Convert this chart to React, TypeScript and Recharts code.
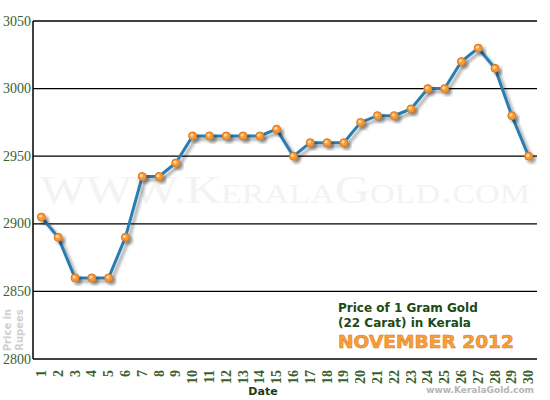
import { LineChart, Line, XAxis, YAxis, CartesianGrid } from "recharts";

const days = [
  1, 2, 3, 4, 5, 6, 7, 8, 9, 10, 11, 12, 13, 14, 15, 16, 17, 18, 19, 20, 21,
  22, 23, 24, 25, 26, 27, 28, 29, 30,
];
const prices = [
  2905, 2890, 2860, 2860, 2860, 2890, 2935, 2935, 2945, 2965, 2965, 2965, 2965,
  2965, 2970, 2950, 2960, 2960, 2960, 2975, 2980, 2980, 2985, 3000, 3000, 3020,
  3030, 3015, 2980, 2950,
];
const yTicks = [2800, 2850, 2900, 2950, 3000, 3050];
// tick marks sit between the days
const dayBoundaries = days.slice(1).map((d) => d - 0.5);

const data = days.map((day, i) => ({ day, price: prices[i] }));

const green = "#3a5f2d";

const DayTick = ({ x, y, payload }: any) => (
  <text
    x={x}
    y={y + 3}
    transform={`rotate(-90, ${x}, ${y + 3})`}
    textAnchor="end"
    dominantBaseline="central"
    fill={green}
    fontSize={14}
    fontWeight="bold"
    fontFamily="Liberation Serif, serif"
  >
    {payload.value}
  </text>
);

const PriceTick = ({ x, y, payload }: any) => (
  <text
    x={x}
    y={y}
    textAnchor="end"
    dominantBaseline="central"
    fill={green}
    fontSize={14}
    fontFamily="Liberation Serif, serif"
  >
    {payload.value}
  </text>
);

const Dot = ({ cx, cy, index }: any) => (
  <g key={index} filter="url(#dropShadow)">
    <circle cx={cx} cy={cy} r={4} fill="#f59a38" stroke="#d9781e" strokeWidth={1} />
    <circle cx={cx - 0.8} cy={cy - 0.8} r={1.6} fill="#ffd49a" />
  </g>
);

export default function App() {
  return (
    <div style={{ position: "absolute", left: 0, top: 0, width: 550, height: 400, background: "#fff" }}>
      <svg width={550} height={400} style={{ position: "absolute", left: 0, top: 0 }}>
        <defs>
          <filter id="dropShadow" x="-50%" y="-50%" width="200%" height="200%">
            <feDropShadow dx={3} dy={3} stdDeviation={1.5} floodColor="#000" floodOpacity={0.35} />
          </filter>
        </defs>
        <text
          x={285}
          y={203}
          textAnchor="middle"
          textLength={490}
          lengthAdjust="spacingAndGlyphs"
          fill="#f3f3f3"
          fontSize={40}
          fontFamily="Liberation Serif, serif"
          style={{ fontVariant: "small-caps" }}
        >
          WWW.KeralaGold.com
        </text>
      </svg>
      <div style={{ position: "absolute", left: 0, top: 0 }}>
        <LineChart
          width={550}
          height={400}
          data={data}
          margin={{ top: 21, right: 13, left: 0, bottom: 0 }}
        >
          <CartesianGrid
            xAxisId="days"
            yAxisId="price"
            vertical={false}
            stroke="#000"
            strokeWidth={1.3}
          />
          <XAxis
            xAxisId="marks"
            dataKey="day"
            type="number"
            domain={[0.5, 30.5]}
            ticks={dayBoundaries}
            tick={false}
            height={0}
            tickSize={5}
            axisLine={{ stroke: "#000", strokeWidth: 1.5 }}
            tickLine={{ stroke: "#555", strokeWidth: 1.5 }}
          />
          <XAxis
            xAxisId="days"
            dataKey="day"
            type="number"
            domain={[0.5, 30.5]}
            ticks={days}
            interval={0}
            height={41}
            axisLine={false}
            tickLine={false}
            tick={<DayTick />}
          />
          <YAxis
            yAxisId="price"
            domain={[2800, 3050]}
            ticks={yTicks}
            width={33}
            tickSize={0}
            tickMargin={2}
            tickLine={false}
            axisLine={{ stroke: "#000", strokeWidth: 1.5 }}
            tick={<PriceTick />}
          />
          <YAxis
            yAxisId="edge"
            orientation="right"
            domain={[2800, 3050]}
            width={0}
            tick={false}
            tickLine={false}
            axisLine={{ stroke: "#888", strokeWidth: 1.5 }}
          />
          <Line
            xAxisId="days"
            yAxisId="price"
            type="linear"
            dataKey="price"
            stroke="#2b7db3"
            strokeWidth={3}
            filter="url(#dropShadow)"
            dot={<Dot />}
            activeDot={false}
            isAnimationActive={false}
          />
        </LineChart>
      </div>
      <svg
        width={550}
        height={400}
        style={{ position: "absolute", left: 0, top: 0, pointerEvents: "none" }}
        fontFamily="DejaVu Sans, Verdana, sans-serif"
        fontWeight="bold"
      >
        <text x={338} y={312} fontSize={12} fill="#1d4a14">
          Price of 1 Gram Gold
        </text>
        <text x={338} y={327} fontSize={12} fill="#1d4a14">
          (22 Carat) in Kerala
        </text>
        <text
          x={338}
          y={348}
          fontSize={18}
          fill="#f6a03c"
          stroke="#e07d1c"
          strokeWidth={0.6}
          textLength={176}
          lengthAdjust="spacingAndGlyphs"
        >
          NOVEMBER 2012
        </text>
        <text x={263} y={395} textAnchor="middle" fontSize={11} fill="#1f3b12">
          Date
        </text>
        <text x={534} y={393} textAnchor="end" fontSize={9} fill="#b5b5b5">
          www.KeralaGold.com
        </text>
        <g transform="rotate(-90, 16, 330)" fill="#cfcfcf" fontSize={10}>
          <text x={16} y={325} textAnchor="middle">
            Price in
          </text>
          <text x={16} y={337} textAnchor="middle">
            Rupees
          </text>
        </g>
      </svg>
    </div>
  );
}
